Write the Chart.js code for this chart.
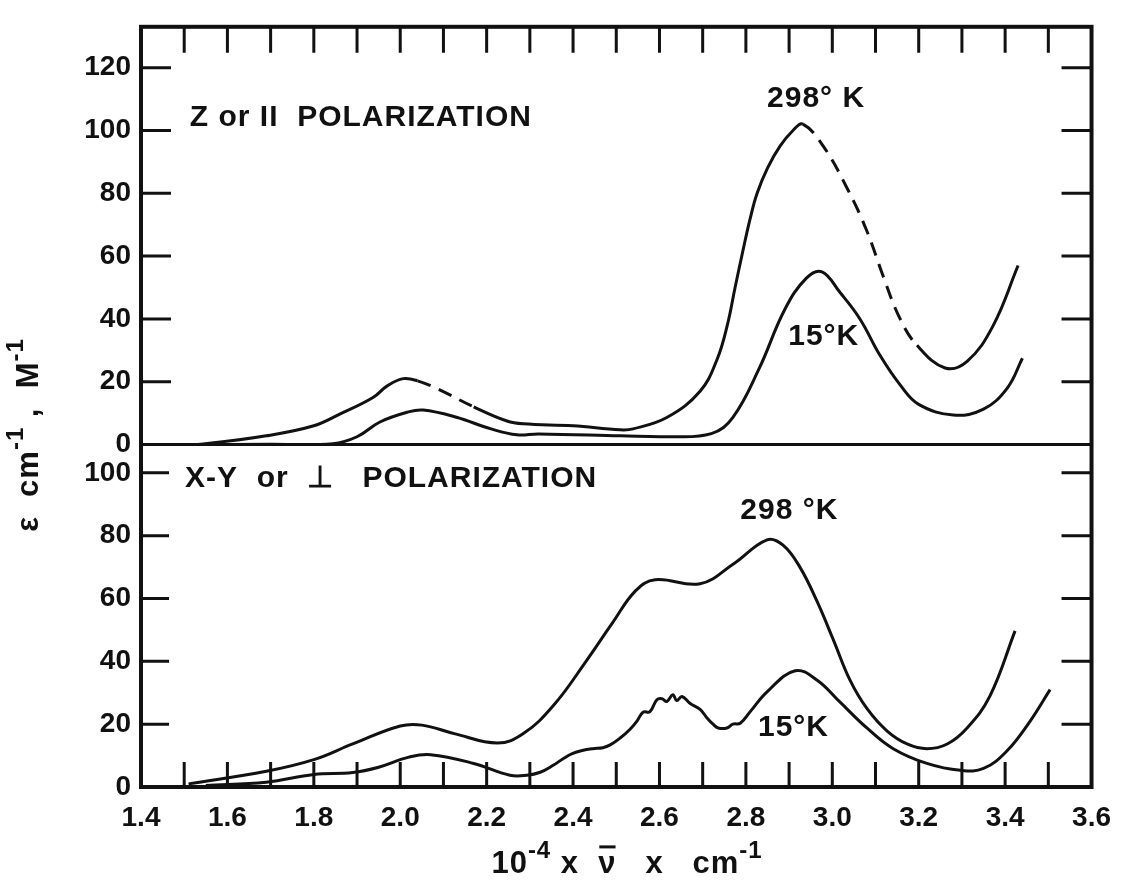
<!DOCTYPE html>
<html>
<head>
<meta charset="utf-8">
<script src="https://cdn.jsdelivr.net/npm/chart.js@4.4.1/dist/chart.umd.min.js"></script>
<style>
  body { margin: 0; background: #fff; }
  canvas { display: block; }
</style>
</head>
<body>
<canvas id="spectrum" width="1125" height="885"></canvas>
<script>
// wavenumber (10^-4 x cm^-1) and epsilon values

// top panel: Z or || polarization
const topWarmX = [1.5, 1.544, 1.69, 1.8, 1.86, 1.937, 1.97, 2.007, 2.04, 2.09, 2.17, 2.247, 2.284, 2.4, 2.509, 2.539, 2.618, 2.694, 2.733, 2.757, 2.775, 2.792, 2.81, 2.826, 2.85, 2.879, 2.909, 2.932, 2.979, 3.034, 3.08, 3.118, 3.157, 3.196, 3.261, 3.312, 3.372, 3.43];
const topWarmY = [0, 0.2, 2.8, 6, 9.7, 15, 18.7, 21, 20.3, 17.5, 12, 7.5, 6.6, 6, 4.7, 5, 8.7, 17, 27, 38, 50, 61, 72, 80, 88, 95, 100, 102, 95, 81.7, 68, 53.5, 40, 31.6, 24.4, 26.5, 37.8, 57];
const topColdX = [1.5, 1.7, 1.844, 1.9, 1.953, 2.016, 2.053, 2.13, 2.21, 2.27, 2.32, 2.51, 2.62, 2.72, 2.77, 2.83, 2.89, 2.94, 2.976, 3.018, 3.064, 3.11, 3.157, 3.20, 3.28, 3.35, 3.405, 3.44];
const topColdY = [0, 0.1, 0.3, 2.5, 7.2, 10.3, 11, 8.7, 5, 3.1, 3.4, 2.8, 2.5, 3.5, 8.7, 24, 43, 53, 55, 48.4, 40, 28.5, 19, 12.8, 9.4, 11.3, 18, 27.5];

// bottom panel: X-Y or perpendicular polarization
const botWarmX = [1.51, 1.69, 1.80, 1.89, 2.0, 2.05, 2.125, 2.225, 2.285, 2.355, 2.43, 2.49, 2.545, 2.59, 2.694, 2.771, 2.849, 2.886, 2.925, 2.965, 3.002, 3.041, 3.08, 3.127, 3.173, 3.219, 3.266, 3.312, 3.365, 3.423];
const botWarmY = [1, 5, 8.7, 13.7, 19.4, 19.7, 17, 14, 17, 26, 40, 52, 62.5, 66, 64.7, 71, 78.7, 77, 70, 59, 47, 34, 25, 17.8, 13.7, 12.2, 13.7, 18.8, 29, 49.7];
const botColdX = [1.55, 1.69, 1.8, 1.89, 1.95, 2.02, 2.07, 2.17, 2.254, 2.293, 2.324, 2.354, 2.377, 2.398, 2.421, 2.446, 2.469, 2.486, 2.509, 2.532, 2.548, 2.562, 2.578, 2.594, 2.606, 2.617, 2.631, 2.640, 2.652, 2.671, 2.694, 2.710, 2.724, 2.736, 2.756, 2.770, 2.787, 2.810, 2.849, 2.914, 2.965, 3.018, 3.08, 3.141, 3.219, 3.296, 3.35, 3.405, 3.458, 3.504];
const botColdY = [0.5, 1.5, 4, 4.6, 6.3, 9.5, 10.3, 7.5, 3.75, 3.75, 4.7, 6.9, 9, 10.6, 11.6, 12.2, 12.5, 13.4, 15.6, 18.4, 21, 23.8, 24, 27.8, 28.1, 27.2, 29.4, 27.5, 28.8, 26.6, 24.7, 22, 20, 18.8, 18.8, 20, 20.3, 24, 30.3, 37, 34, 27, 18.8, 12.2, 7.5, 5.3, 5.9, 11.6, 21, 31];

// portions of the 298 K top curve drawn broken
const topWarmDashed = [[2.02, 2.16], [2.93, 3.16]];

// axis ticks
const xTickLabels = [1.4, 1.6, 1.8, 2.0, 2.2, 2.4, 2.6, 2.8, 3.0, 3.2, 3.4, 3.6];
const xMarks = [1.5, 1.6, 1.7, 1.8, 1.9, 2.0, 2.1, 2.2, 2.3, 2.4, 2.5, 2.6, 2.7, 2.8, 2.9, 3.0, 3.1, 3.2, 3.3, 3.4, 3.5];
const topYTicks = [0, 20, 40, 60, 80, 100, 120];
const botYTicks = [0, 20, 40, 60, 80, 100];

const notes = [
    { text: 'Z or II  POLARIZATION', x: 1.513, y: 104, axis: 'yTop' },
    { text: '298° K', x: 2.849, y: 110, axis: 'yTop' },
    { text: '15°K', x: 2.898, y: 34.4, axis: 'yTop' },
    { text: 'X-Y  or  ⊥   POLARIZATION', x: 1.502, y: 98, axis: 'yBot' },
    { text: '298 °K', x: 2.787, y: 88, axis: 'yBot' },
    { text: '15°K', x: 2.828, y: 18.75, axis: 'yBot' }
];

const FONT = '"Liberation Sans", Arial, sans-serif';

function toPoints(xs, ys) {
    return xs.map((x, i) => ({ x: x, y: ys[i] }));
}

function inRanges(v, ranges) {
    return ranges.some(r => v >= r[0] && v < r[1]);
}

function curve(label, xs, ys, axis, extra) {
    return Object.assign({
        label: label,
        data: toPoints(xs, ys),
        yAxisID: axis,
        borderColor: '#111',
        borderWidth: 3,
        pointRadius: 0,
        fill: false,
        tension: 0.4
    }, extra || {});
}

// text with superscripts / overbar, centred on (cx, cy)
function drawRich(ctx, parts, cx, cy, size) {
    const fontOf = p => 'bold ' + (p.sup ? Math.round(size * 0.78) : size) + 'px ' + FONT;
    let total = 0;
    parts.forEach(p => {
        ctx.font = fontOf(p);
        total += ctx.measureText(p.t).width;
    });
    let px = cx - total / 2;
    ctx.textAlign = 'left';
    ctx.textBaseline = 'middle';
    parts.forEach(p => {
        ctx.font = fontOf(p);
        const w = ctx.measureText(p.t).width;
        ctx.fillText(p.t, px, p.sup ? cy - size * 0.42 : cy);
        if (p.bar) {
            ctx.fillRect(px + 1, cy - size * 0.6, w - 2, 3);
        }
        px += w;
    });
}

// frame, inward tick marks, panel divider and text notes
const framePlugin = {
    id: 'frame',
    afterDatasetsDraw(chart) {
        const ctx = chart.ctx;
        const a = chart.chartArea;
        const x = chart.scales.x;
        const yTop = chart.scales.yTop;
        const yBot = chart.scales.yBot;
        const mid = yTop.getPixelForValue(0);

        ctx.save();
        ctx.strokeStyle = '#111';
        ctx.lineWidth = 4;
        ctx.strokeRect(a.left, a.top, a.right - a.left, a.bottom - a.top);
        ctx.lineWidth = 3;
        ctx.beginPath();
        ctx.moveTo(a.left, mid);
        ctx.lineTo(a.right, mid);

        xMarks.forEach(v => {
            const px = x.getPixelForValue(v);
            ctx.moveTo(px, a.top);
            ctx.lineTo(px, a.top + 26);
            ctx.moveTo(px, a.bottom);
            ctx.lineTo(px, a.bottom - 25);
        });
        topYTicks.slice(1).forEach(v => {
            const py = yTop.getPixelForValue(v);
            ctx.moveTo(a.left, py);
            ctx.lineTo(a.left + 30, py);
            ctx.moveTo(a.right, py);
            ctx.lineTo(a.right - 30, py);
        });
        botYTicks.slice(1).forEach(v => {
            const py = yBot.getPixelForValue(v);
            ctx.moveTo(a.left, py);
            ctx.lineTo(a.left + 28, py);
            ctx.moveTo(a.right, py);
            ctx.lineTo(a.right - 30, py);
        });
        ctx.stroke();

        ctx.fillStyle = '#111';
        ctx.font = 'bold 30px ' + FONT;
        ctx.letterSpacing = '1px';
        ctx.textAlign = 'left';
        ctx.textBaseline = 'middle';
        notes.forEach(n => {
            ctx.fillText(n.text, x.getPixelForValue(n.x), chart.scales[n.axis].getPixelForValue(n.y));
        });

        // x axis title
        drawRich(ctx, [
            { t: '10' }, { t: '-4', sup: true }, { t: ' x  ' }, { t: 'ν', bar: true }, { t: '   x   cm' }, { t: '-1', sup: true }
        ], 627, 864, 31);

        // y axis title, rotated
        ctx.save();
        ctx.translate(29, 435);
        ctx.rotate(-Math.PI / 2);
        drawRich(ctx, [
            { t: 'ε  cm' }, { t: '-1', sup: true }, { t: ' ,  M' }, { t: '-1', sup: true }
        ], 0, 0, 31);
        ctx.restore();
        ctx.letterSpacing = '0px';
        ctx.restore();
    }
};

const tickFont = { family: FONT, size: 28, weight: 'bold' };

new Chart(document.getElementById('spectrum').getContext('2d'), {
    type: 'line',
    data: {
        datasets: [
            curve('298 K, Z', topWarmX, topWarmY, 'yTop', {
                segment: {
                    borderDash: c => inRanges(c.p0.parsed.x, topWarmDashed) ? [14, 9] : []
                }
            }),
            curve('15 K, Z', topColdX, topColdY, 'yTop'),
            curve('298 K, XY', botWarmX, botWarmY, 'yBot'),
            curve('15 K, XY', botColdX, botColdY, 'yBot')
        ]
    },
    options: {
        responsive: false,
        animation: false,
        layout: { padding: { left: 0, right: 33, top: 13, bottom: 0 } },
        plugins: {
            legend: { display: false },
            tooltip: { enabled: false }
        },
        scales: {
            x: {
                type: 'linear',
                min: 1.4,
                max: 3.6,
                grid: { display: false, drawTicks: false },
                border: { display: false },
                afterBuildTicks: s => { s.ticks = xTickLabels.map(v => ({ value: v })); },
                afterFit: s => { s.height = 98; },
                ticks: {
                    color: '#111',
                    font: tickFont,
                    padding: 14,
                    maxRotation: 0,
                    callback: v => v.toFixed(1)
                }
            },
            yBot: {
                type: 'linear',
                position: 'left',
                stack: 'panels',
                stackWeight: 109,
                min: 0,
                max: 109,
                grid: { display: false, drawTicks: false },
                border: { display: false },
                afterBuildTicks: s => { s.ticks = botYTicks.map(v => ({ value: v })); },
                afterFit: s => { s.width = 141; },
                ticks: { color: '#111', font: tickFont, padding: 10 }
            },
            yTop: {
                type: 'linear',
                position: 'left',
                stack: 'panels',
                stackWeight: 133,
                min: 0,
                max: 133,
                grid: { display: false, drawTicks: false },
                border: { display: false },
                afterBuildTicks: s => { s.ticks = topYTicks.map(v => ({ value: v })); },
                afterFit: s => { s.width = 141; },
                ticks: { color: '#111', font: tickFont, padding: 10 }
            }
        }
    },
    plugins: [framePlugin]
});
</script>
</body>
</html>
